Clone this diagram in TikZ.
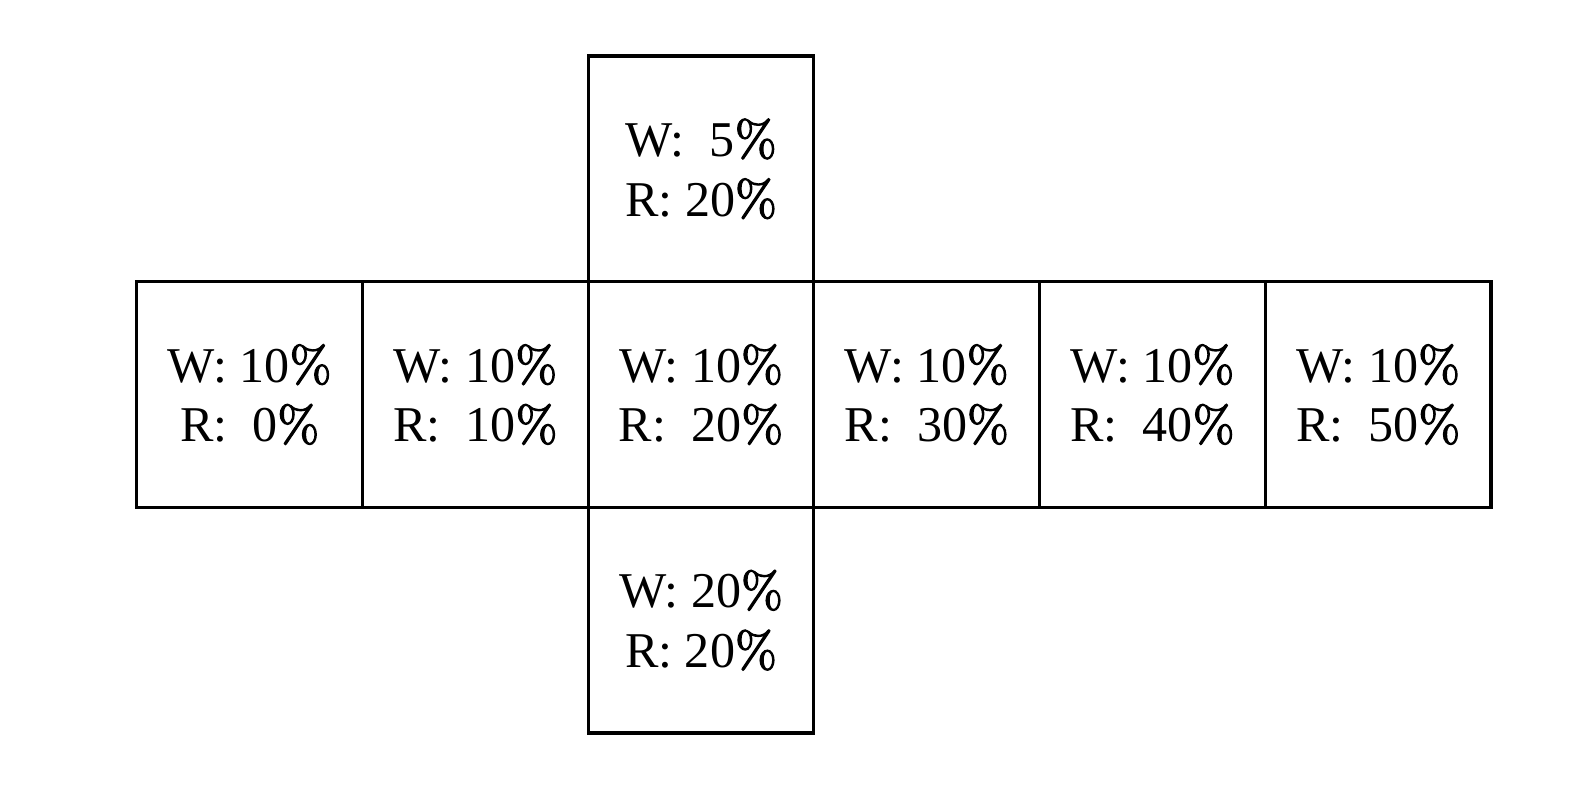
\documentclass[tikz,border=0pt]{standalone}
\usepackage{fontspec}
\setmainfont{Liberation Serif}
\newfontfamily\pctfont[FakeBold=2.5]{lmroman10-regular.otf}
\newcommand{\pct}{{\pctfont\%}}
\usetikzlibrary{positioning}
\tikzset{
  cell/.style={draw,line width=1.8pt,minimum size=4.514cm,inner sep=0pt,outer sep=0pt,
    align=center,font=\fontsize{28.5}{34}\selectfont}
}
\begin{document}
\begin{tikzpicture}
\useasboundingbox (0,0) rectangle (31.5,-15.76);
% middle row
\node[cell] (r20) at (14.02,-7.89) {W: 10\pct\\R:~~20\pct};
\node[cell,left=0pt of r20] (r10) {W: 10\pct\\R:~~10\pct};
\node[cell,left=0pt of r10] (r0) {W: 10\pct\\R:~~0\pct};
\node[cell,right=0pt of r20] (r30) {W: 10\pct\\R:~~30\pct};
\node[cell,right=0pt of r30] (r40) {W: 10\pct\\R:~~40\pct};
\node[cell,right=0pt of r40] (r50) {W: 10\pct\\R:~~50\pct};
% column through the centre
\node[cell,above=0pt of r20] (wlow) {W:~~5\pct\\R: 20\pct};
\node[cell,below=0pt of r20] (whigh) {W: 20\pct\\R: 20\pct};
\end{tikzpicture}
\end{document}
